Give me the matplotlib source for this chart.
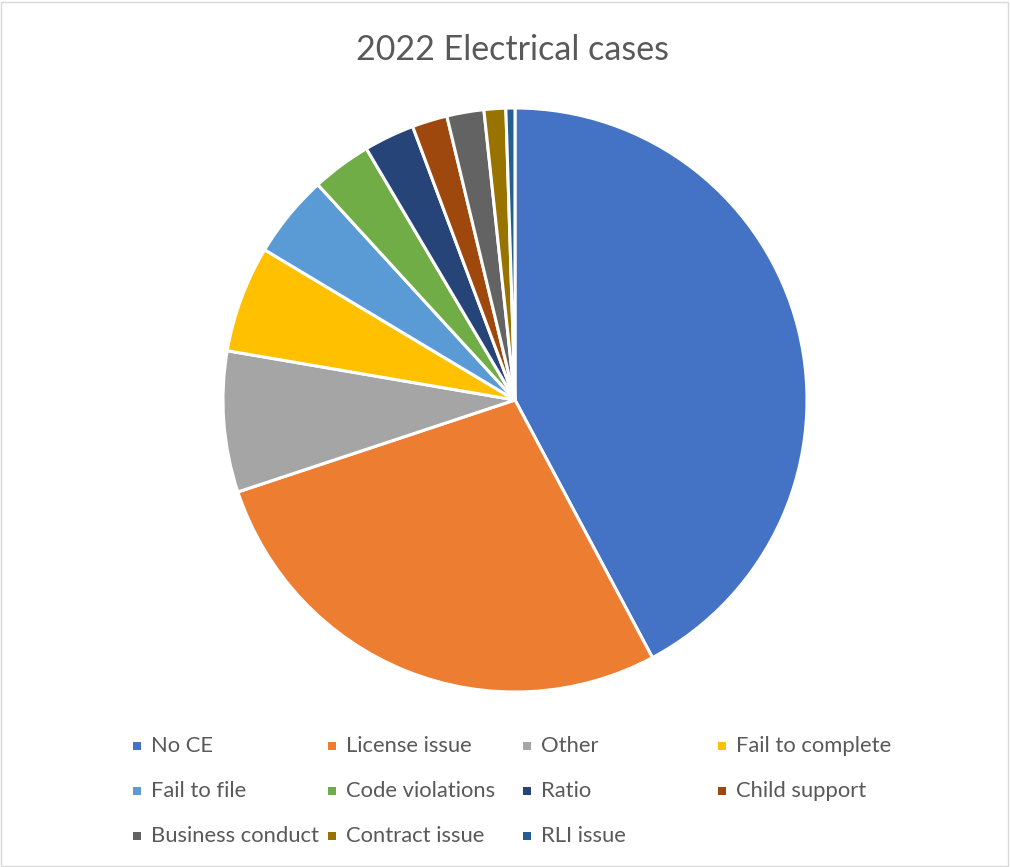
import matplotlib.pyplot as plt
from matplotlib.patches import Rectangle

plt.rcParams['font.family'] = ['Lato', 'DejaVu Sans']

categories = ['No CE', 'License issue', 'Other', 'Fail to complete',
              'Fail to file', 'Code violations', 'Ratio', 'Child support',
              'Business conduct', 'Contract issue', 'RLI issue']
values = [42.2, 27.7, 7.8, 5.9, 4.6, 3.3, 2.8, 1.95, 2.05, 1.2, 0.5]
colors = ['#4472C4', '#ED7D31', '#A5A5A5', '#FFC000', '#5B9BD5', '#70AD47',
          '#264478', '#9E480E', '#636363', '#997300', '#255E91']

W, H = 1010, 867
fig = plt.figure(figsize=(W / 100, H / 100), dpi=100)

# chart border
fig.add_artist(Rectangle((1 / W, 1 / H), 1 - 3 / W, 1 - 3 / H, transform=fig.transFigure,
                         fill=False, edgecolor='#D9D9D9', linewidth=1))

cx, cy, r = 515, 400, 292
ax = fig.add_axes([(cx - r) / W, (H - cy - r) / H, 2 * r / W, 2 * r / H])
ax.pie(values, colors=colors, startangle=90, counterclock=False, radius=1,
       wedgeprops=dict(edgecolor='white', linewidth=2.2))
ax.set_xlim(-1, 1)
ax.set_ylim(-1, 1)
ax.set_aspect('equal')
ax.axis('off')

fig.text(513 / W, 1 - 50 / H, '2022 Electrical cases', ha='center', va='center',
         fontsize=24.5, color='#595959')

# legend, 4 columns laid out like Excel
col_x = [137, 332, 527, 722]
row_y = [746, 791, 836]
for i, (lab, c) in enumerate(zip(categories, colors)):
    x = col_x[i % 4]
    y = row_y[i // 4]
    fig.add_artist(Rectangle(((x - 4) / W, 1 - (y + 4) / H), 8 / W, 8 / H,
                             transform=fig.transFigure, facecolor=c, edgecolor='none'))
    fig.text((x + 14) / W, 1 - y / H, lab, ha='left', va='center',
             fontsize=15.8, color='#595959')

plt.savefig('out.png', dpi=100)
